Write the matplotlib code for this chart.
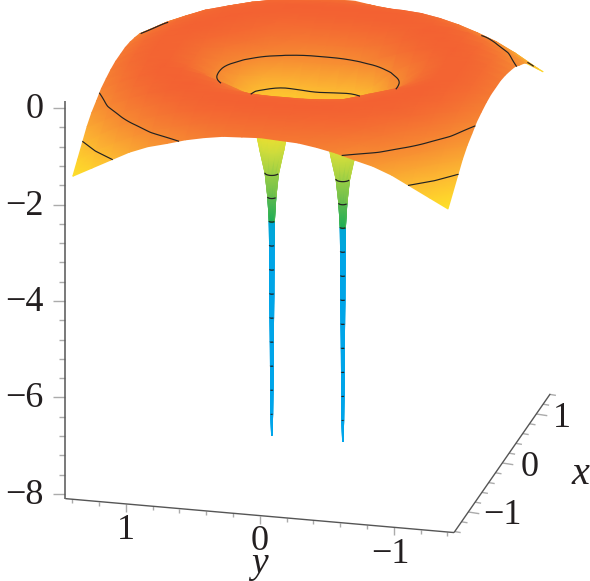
import numpy as np
import matplotlib
matplotlib.use("Agg")
import matplotlib.pyplot as plt
from matplotlib.colors import LinearSegmentedColormap, Normalize
from matplotlib.tri import Triangulation, LinearTriInterpolator

# --- data -----------------------------------------------------------------
grid_abs = [0.0, 0.14, 0.28, 0.42, 0.56, 0.70, 0.84, 0.98, 1.12, 1.26, 1.40]
# surface height; rows |x| = grid_abs, columns |y| = grid_abs
height_rows = [
    [-1.25, -1.35, -1.50, -1.15, -0.72, -0.44, -0.20, -0.08, -0.06, -0.15, -0.32],
    [-1.15, -1.25, -1.30, -1.05, -0.67, -0.41, -0.18, -0.07, -0.06, -0.15, -0.32],
    [-0.92, -0.95, -0.98, -0.80, -0.47, -0.27, -0.13, -0.05, -0.07, -0.17, -0.35],
    [-0.58, -0.58, -0.52, -0.38, -0.24, -0.13, -0.06, -0.04, -0.10, -0.22, -0.40],
    [-0.34, -0.33, -0.30, -0.24, -0.13, -0.07, -0.04, -0.06, -0.13, -0.27, -0.46],
    [-0.16, -0.16, -0.14, -0.11, -0.07, -0.03, -0.05, -0.10, -0.20, -0.36, -0.57],
    [-0.05, -0.05, -0.05, -0.04, -0.04, -0.05, -0.08, -0.15, -0.30, -0.46, -0.67],
    [-0.03, -0.03, -0.03, -0.04, -0.06, -0.10, -0.17, -0.30, -0.43, -0.62, -0.82],
    [-0.08, -0.08, -0.09, -0.10, -0.13, -0.20, -0.30, -0.43, -0.58, -0.78, -1.02],
    [-0.17, -0.17, -0.18, -0.22, -0.27, -0.36, -0.46, -0.62, -0.78, -0.98, -1.22],
    [-0.28, -0.30, -0.32, -0.38, -0.46, -0.57, -0.67, -0.82, -1.02, -1.22, -1.42],
]
# the back right part (x > 0, y < 0) lies lower than the other quadrants
back_right_x126 = [-0.17, -0.20, -0.24, -0.30, -0.38, -0.47, -0.58, -0.72, -0.87, -1.02, -1.22]
back_right_x140 = [-0.30, -0.36, -0.44, -0.54, -0.65, -0.76, -0.86, -0.98, -1.10, -1.26, -1.42]
contour_levels = [-1.0, -0.5]

spike_centres_y = [0.27, -0.26]
spike_z = [-1.2, -1.75, -2.0, -2.5, -3.0, -3.5, -3.52, -4.0, -4.5, -5.0, -5.5, -6.0, -6.5, -7.0, -7.5, -7.94]
spike_radius = [0.16, 0.108, 0.09, 0.05, 0.03, 0.019, 0.019, 0.017, 0.016, 0.015, 0.013, 0.011, 0.010, 0.008, 0.006, 0.002]
spike_ring_z = [-2.5, -3.0, -3.5, -4.0, -4.5, -5.0, -5.5, -6.0, -6.5, -7.0, -7.5]

z_major = [0, -2, -4, -6, -8]
z_major_labels = ["0", "\u22122", "\u22124", "\u22126", "\u22128"]
y_major = [1, 0, -1]
y_major_labels = ["1", "0", "\u22121"]
x_major = [1, 0, -1]
x_major_labels = ["1", "0", "\u22121"]

colour_z = [-8.1, -3.52, -3.5, -3.0, -2.5, -2.0, -1.4, -1.0, -0.5, 0.0]
colour_hex = ["#00A5EB", "#00A5E6", "#00AA5A", "#5AB950", "#96CD46", "#CDDC3C",
              "#FFE128", "#FDBB32", "#F68832", "#F35F32"]

# --- projection of the box onto the picture --------------------------------
X_LO, X_HI, Y_LO, Y_HI, Z_LO, Z_HI = -1.42, 1.41, -1.45, 1.45, -8.1, 0.15
VIEW = np.array([-1.0, -0.2537, 1.078])


def project(x, y, z):
    x, y, z = np.asarray(x, float), np.asarray(y, float), np.asarray(z, float)
    return 308 + 34 * x - 134 * y, 55.6 - 49 * x - 11.7 * y - 48.2 * z


def depth(x, y, z):
    return VIEW[0] * x + VIEW[1] * y + VIEW[2] * z


plt.rcParams["font.family"] = ["Liberation Serif", "DejaVu Serif"]
fig = plt.figure(figsize=(5.9, 5.81), dpi=100)
ax = fig.add_axes([0, 0, 1, 1])
ax.set_xlim(0, 590)
ax.set_ylim(581, 0)
ax.axis("off")

lo, hi = colour_z[0], colour_z[-1]
cmap = LinearSegmentedColormap.from_list(
    "surface", [((v - lo) / (hi - lo), c) for v, c in zip(colour_z, colour_hex)], N=2048)
norm = Normalize(lo, hi)


def draw_mesh(x, y, z, tris, zorder):
    tris = np.asarray(tris)
    d = depth(x[tris].mean(axis=1), y[tris].mean(axis=1), z[tris].mean(axis=1))
    tris = tris[np.argsort(d)]
    px, py = project(x, y, z)
    tri = Triangulation(px, py, tris)
    ax.tripcolor(tri, z, shading="gouraud", cmap=cmap, norm=norm, zorder=zorder,
                 antialiased=True)


def grid_triangles(nr, nc):
    out = []
    for i in range(nr - 1):
        for j in range(nc - 1):
            a, b, c, d = i * nc + j, i * nc + j + 1, (i + 1) * nc + j, (i + 1) * nc + j + 1
            out += [[a, b, c], [b, d, c]]
    return out


def rounded(seg, rounds=3):
    """Corner cutting for a level line; the two ends stay where they are."""
    pts = np.asarray(seg)
    closed = np.allclose(pts[0], pts[-1])
    for _ in range(rounds):
        a, b = pts[:-1], pts[1:]
        q = 0.75 * a + 0.25 * b
        r = 0.25 * a + 0.75 * b
        mid = np.empty((2 * len(a), 2))
        mid[0::2], mid[1::2] = q, r
        if closed:
            pts = np.vstack([mid, mid[:1]])
        else:
            pts = np.vstack([pts[:1], mid, pts[-1:]])
    return pts


# --- spikes ----------------------------------------------------------------
theta = np.deg2rad(np.arange(0, 360, 30))
for yc in spike_centres_y:
    tt, rr = np.meshgrid(theta, spike_radius, indexing="ij")
    zz = np.tile(spike_z, (len(theta), 1))
    sx = (rr * np.cos(tt)).ravel()
    sy = (yc + rr * np.sin(tt)).ravel()
    sz = zz.ravel()
    nr, nc = len(theta), len(spike_z)
    tris = []
    for i in range(nr):
        k = (i + 1) % nr
        for j in range(nc - 1):
            a, b, c, d = i * nc + j, i * nc + j + 1, k * nc + j, k * nc + j + 1
            tris += [[a, b, c], [b, d, c]]
    draw_mesh(sx, sy, sz, tris, 1)
    # front half of each level ring
    front = np.deg2rad(np.linspace(100, 260, 25))
    for level in spike_ring_z:
        r = np.interp(level, spike_z[::-1], spike_radius[::-1])
        px, py = project(r * np.cos(front), yc + r * np.sin(front), np.full(front.shape, level))
        ax.plot(px, py, color="#222222", lw=0.9, zorder=1.5, solid_capstyle="butt")

# --- main surface -----------------------------------------------------------
coords = np.array([-v for v in grid_abs[:0:-1]] + list(grid_abs))
table = np.array(height_rows)
index = np.abs(np.arange(-len(grid_abs) + 1, len(grid_abs)))
Z = table[np.ix_(index, index)]
n0 = len(grid_abs) - 1
# rows: x from -1.4 to 1.4; columns: y from -1.4 to 1.4
Z[-2, :n0 + 1] = back_right_x126[::-1]
Z[-1, :n0 + 1] = back_right_x140[::-1]
X, Y = np.meshgrid(coords, coords, indexing="ij")
surf_tris = grid_triangles(len(coords), len(coords))
draw_mesh(X.ravel(), Y.ravel(), Z.ravel(), surf_tris, 2)

# --- level lines on the surface, with hidden parts left out -----------------
helper = plt.figure()
cs = helper.add_subplot().contour(Y, X, Z, levels=contour_levels)
segments = cs.allsegs
plt.close(helper)

interp = LinearTriInterpolator(Triangulation(X.ravel(), Y.ravel(), surf_tris), Z.ravel())
steps = np.arange(0.03, 3.0, 0.03)


def visible(x, y, z):
    rx = x + VIEW[0] * steps
    ry = y + VIEW[1] * steps
    rz = z + VIEW[2] * steps
    h = interp(rx, ry)
    return not np.any(np.ma.filled(h, -99.0) > rz + 0.012)


for level, segs in zip(contour_levels, segments):
    for seg in segs:
        fine = rounded(seg)
        ly, lx = fine[:, 0], fine[:, 1]
        vis = np.array([visible(a, b, level) for a, b in zip(lx, ly)])
        px, py = project(lx, ly, np.full(lx.shape, level))
        px = np.where(vis, px, np.nan)
        ax.plot(px, py, color="#222222", lw=0.85, zorder=3)

# --- axes -------------------------------------------------------------------
AXIS = "#555555"
TICK = "#ABABAB"
TEXT = "#231F20"
FS = 26


def segment(p, q, color, lw=1.0, zorder=4):
    ax.plot([p[0], q[0]], [p[1], q[1]], color=color, lw=lw, zorder=zorder, solid_capstyle="butt")


segment(project(X_LO, Y_HI, Z_LO), project(X_LO, Y_HI, Z_HI), AXIS, 1.1)
segment(project(X_LO, Y_HI, Z_LO), project(X_LO, Y_LO, Z_LO), AXIS, 1.0)
segment(project(X_LO, Y_LO, Z_LO), project(X_HI, Y_LO, Z_LO), AXIS, 1.0)

for k in range(21):
    v = -8 + 0.4 * k
    p = project(X_LO, Y_HI, v)
    major = k % 5 == 0
    segment(p, (p[0] - (12 if major else 6), p[1]), TICK, 1.0, 3.5)
for k in range(15):
    v = -1.4 + 0.2 * k
    major = k in (2, 7, 12)
    p = project(X_LO, v, Z_LO)
    segment(p, (p[0], p[1] + (8 if major else 4)), TICK, 1.0, 3.5)
    q = project(v, Y_LO, Z_LO)
    segment(q, (q[0] + (11 if major else 6), q[1] + (1.7 if major else 1)), TICK, 1.0, 3.5)

for v, lab in zip(z_major, z_major_labels):
    p = project(X_LO, Y_HI, v)
    ax.text(44, p[1] + 1.5, lab, ha="right", va="center", fontsize=FS, color=TEXT, zorder=5)
for v, lab, dx, dy in zip(y_major, y_major_labels, [0, 0, -3], [27, 26, 27]):
    p = project(X_LO, v, Z_LO)
    ax.text(p[0] + dx, p[1] + dy, lab, ha="center", va="center", fontsize=FS, color=TEXT, zorder=5)
for v, lab, dx, dy in zip(x_major, x_major_labels, [26, 27, 34], [5, 5, 4]):
    p = project(v, Y_LO, Z_LO)
    ax.text(p[0] + dx, p[1] + dy, lab, ha="center", va="center", fontsize=FS, color=TEXT, zorder=5)
ax.text(580, 475, "x", ha="center", va="center", style="italic", fontsize=FS + 3, color=TEXT, zorder=5)
ax.text(259, 564, "y", ha="center", va="center", style="italic", fontsize=FS + 1, color=TEXT, zorder=5)

fig.savefig("out.png", dpi=100, facecolor="white")
